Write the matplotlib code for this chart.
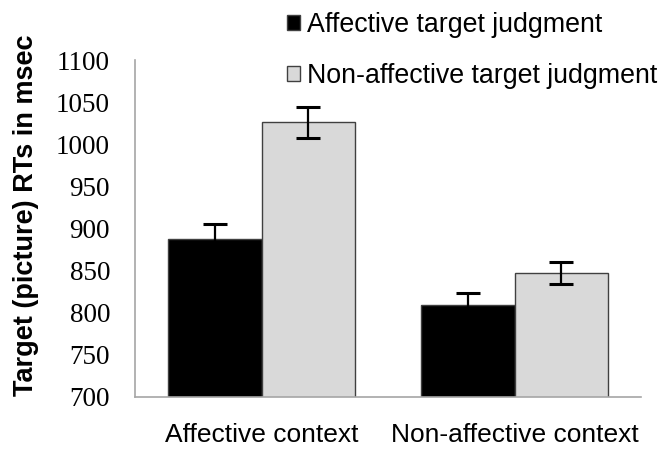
import numpy as np
import matplotlib
matplotlib.use("Agg")
import matplotlib.pyplot as plt
from matplotlib.patches import Patch

categories = ["Affective context", "Non-affective context"]
series_names = ["Affective target judgment", "Non-affective target judgment"]
affective_rt = [887, 809]
affective_err = [18, 14]
nonaffective_rt = [1026, 847]
nonaffective_err = [18, 13]
yticks = [700, 750, 800, 850, 900, 950, 1000, 1050, 1100]

fig = plt.figure(figsize=(6.72, 4.49), dpi=100)
ax = fig.add_axes([0.201, 0.116, 0.753, 0.750])

x = np.arange(len(categories))
w = 0.369
err_kw = dict(ecolor="black", capsize=8.5, elinewidth=1.6, capthick=2.2)
ax.bar(x - w / 2, affective_rt, w, color="black", edgecolor="#404040",
       linewidth=1, yerr=affective_err, error_kw=err_kw, zorder=2)
ax.bar(x + w / 2, nonaffective_rt, w, color="#d9d9d9", edgecolor="#404040",
       linewidth=1, yerr=nonaffective_err, error_kw=err_kw, zorder=2)

ax.set_xlim(-0.5, 1.5)
ax.set_ylim(700, 1100)
ax.set_yticks(yticks)
ax.set_yticklabels([str(t) for t in yticks], family="Liberation Serif", fontsize=19.5)
ax.set_xticks(x)
ax.set_xticklabels(categories, family="Liberation Sans", fontsize=19)
ax.tick_params(length=0, axis="y", pad=18)
ax.tick_params(length=0, axis="x", pad=19)
for s in ["top", "right"]:
    ax.spines[s].set_visible(False)
for s in ["left", "bottom"]:
    ax.spines[s].set_color("#a6a6a6")
    ax.spines[s].set_linewidth(1.2)

ax.set_ylabel("Target (picture) RTs in msec", family="Liberation Sans",
              fontweight="bold", fontsize=19.5)
ax.yaxis.label.set_verticalalignment("center")
ax.yaxis.set_label_coords(-0.215, 0.54)

handles = [Patch(facecolor="black", edgecolor="#404040"),
           Patch(facecolor="#d9d9d9", edgecolor="#404040")]
fig.legend(handles, series_names, loc="upper left", bbox_to_anchor=(0.427, 0.973),
           frameon=False, prop=dict(family="Liberation Sans", size=19.3),
           handlelength=0.49, handleheight=0.49, handletextpad=0.27,
           labelspacing=0.92, borderpad=0, borderaxespad=0)

fig.savefig("out.png", dpi=100)
